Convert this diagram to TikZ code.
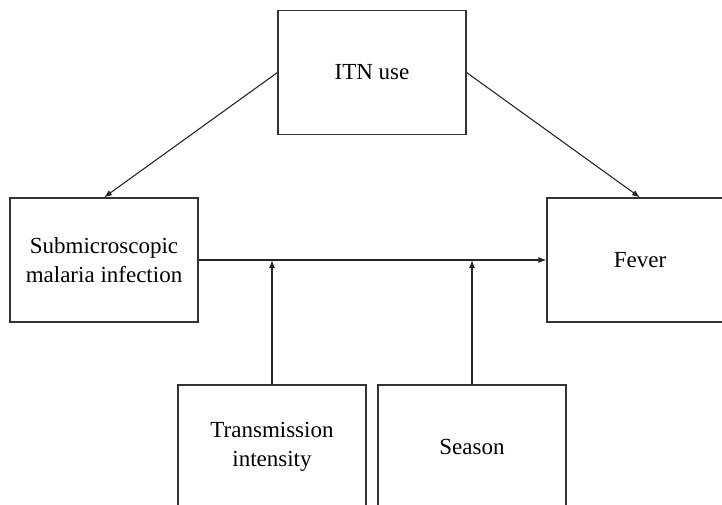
\documentclass[tikz,border=0pt]{standalone}
\usepackage{fontspec}
\setmainfont{Liberation Serif}
\usetikzlibrary{arrows.meta}
\begin{document}
\begin{tikzpicture}[x=1pt, y=1pt, >={Latex[length=8pt,width=6pt]},
	box/.style={draw=black!80, line width=1.1pt, minimum width=188pt, minimum height=124pt,
		align=center, inner sep=0pt, font=\rmfamily\fontsize{23}{29}\selectfont},
	link/.style={->, draw=black!85, line width=1.1pt}]
	% 1. picture frame
	\useasboundingbox (0,0) rectangle (722,504);
	
	% 2. boxes
	\node[box] (itn) at (372,431.5) {ITN use};
	\node[box] (sub) at (104,244) {Submicroscopic\\malaria infection};
	\node[box, minimum width=186pt] (fever) at (640,244) {Fever};
	\node[box] (trans) at (272,57) {Transmission\\intensity};
	\node[box] (season) at (472,57) {Season};
	
	% 3. arrows
	\draw[link] (itn.west) -- (sub.north);
	\draw[link] (itn.east) -- (fever.north);
	\draw[link] (sub.east) -- (fever.west);
	\draw[link] (trans.north) -- (trans.north |- sub.east);
	\draw[link] (season.north) -- (season.north |- sub.east);
	
\end{tikzpicture}
\end{document}
